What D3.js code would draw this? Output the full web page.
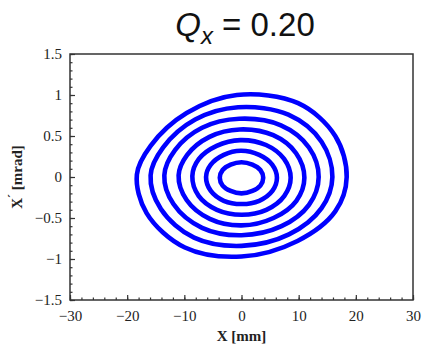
<!DOCTYPE html>
<html><head><meta charset="utf-8">
<script src="https://cdn.jsdelivr.net/npm/d3@7"></script>
<style>body{margin:0;background:#fff}</style>
</head><body>
<svg id="c" width="423" height="349"></svg>
<script>
// Data (X [mm], X' [mrad]), one closed ring each
const ring1 = [[3.8,-0.01],[3.3,0.085],[1.9,0.15],[0,0.18],[-1.9,0.15],[-3.3,0.085],[-3.8,-0.01],[-3.3,-0.105],[-1.9,-0.17],[0,-0.2],[1.9,-0.17],[3.3,-0.105]];
const ring2 = [[6.2,-0.01],[5.37,0.15],[3.1,0.27],[-0.1,0.32],[-3.1,0.27],[-5.37,0.15],[-6.2,0.0],[-5.37,-0.17],[-3.1,-0.29],[0.05,-0.33],[3.1,-0.29],[5.4,-0.17]];
const ring3 = [[8.6,-0.01],[7.45,0.22],[4.3,0.39],[-0.2,0.45],[-4.35,0.38],[-7.45,0.22],[-8.6,0.01],[-7.5,-0.23],[-4.3,-0.4],[0.05,-0.46],[4.35,-0.4],[7.5,-0.23]];
const ring4 = [[11,-0.01],[9.55,0.29],[5.55,0.51],[-0.3,0.58],[-5.6,0.49],[-9.5,0.27],[-11,0.02],[-9.6,-0.28],[-5.55,-0.51],[0,-0.59],[5.6,-0.5],[9.6,-0.29]];
const ring5 = [[13.5,0.0],[11.8,0.36],[6.9,0.63],[-0.4,0.71],[-6.9,0.6],[-11.6,0.33],[-13.5,0.02],[-11.9,-0.33],[-6.9,-0.62],[0,-0.71],[7.0,-0.6],[11.8,-0.34]];
const ring6 = [[15.9,0.0],[14.0,0.43],[8.2,0.76],[-0.6,0.85],[-8.1,0.7],[-13.7,0.36],[-15.9,0.02],[-14.1,-0.39],[-8.3,-0.74],[0,-0.84],[8.3,-0.7],[14.0,-0.38]];
const ring7 = [[18.4,0.0],[16.4,0.5],[9.9,0.9],[-0.8,1.0],[-9.6,0.78],[-15.9,0.38],[-18.3,0.03],[-16.6,-0.44],[-9.9,-0.86],[0,-0.97],[9.8,-0.78],[16.4,-0.42]];
const rings = [ring1, ring2, ring3, ring4, ring5, ring6, ring7];

const xTicks = [-30,-20,-10,0,10,20,30];
const yTicks = [-1.5,-1,-0.5,0,0.5,1,1.5];
const xMinor = d3.range(-30, 30.001, 2);
const yMinor = d3.range(-1.5, 1.5001, 0.1);

const svg = d3.select('#c');
const L = 70, R = 413, T = 54, B = 300;
const x = d3.scaleLinear().domain([-30,30]).range([L,R]);
const y = d3.scaleLinear().domain([-1.5,1.5]).range([B,T]);
const axisCol = '#333';
const serif = "'Liberation Serif','Times New Roman',serif";

// rings
const line = d3.line().x(d=>x(d[0])).y(d=>y(d[1])).curve(d3.curveCatmullRomClosed.alpha(0.5));
svg.append('g').selectAll('path').data(rings).join('path')
  .attr('d', line).attr('fill','none').attr('stroke','#0000ff').attr('stroke-width',4.6);

// frame
svg.append('rect').attr('x',L).attr('y',T).attr('width',R-L).attr('height',B-T)
  .attr('fill','none').attr('stroke',axisCol).attr('stroke-width',1.5);

// bottom axis
const gx = svg.append('g').attr('transform',`translate(0,${B})`)
  .call(d3.axisBottom(x).tickValues(xTicks).tickSize(-5).tickPadding(10)
    .tickFormat(d=>d<0?'\u2212'+Math.abs(d):d));
gx.select('.domain').remove();
gx.selectAll('line').attr('stroke',axisCol).attr('stroke-width',1.2);
gx.selectAll('text').attr('font-family',serif).attr('font-size',15).attr('fill','#222');
svg.append('g').attr('transform',`translate(0,${B})`)
  .call(d3.axisBottom(x).tickValues(xMinor).tickSize(-2.5).tickFormat(''))
  .call(g=>g.select('.domain').remove())
  .selectAll('line').attr('stroke',axisCol).attr('stroke-width',1.2);

// left axis
const gy = svg.append('g').attr('transform',`translate(${L},0)`)
  .call(d3.axisLeft(y).tickValues(yTicks).tickSize(-5).tickPadding(8)
    .tickFormat(d=>d<0?'\u2212'+Math.abs(d):d));
gy.select('.domain').remove();
gy.selectAll('line').attr('stroke',axisCol).attr('stroke-width',1.2);
gy.selectAll('text').attr('font-family',serif).attr('font-size',15).attr('fill','#222');
svg.append('g').attr('transform',`translate(${L},0)`)
  .call(d3.axisLeft(y).tickValues(yMinor).tickSize(-2.5).tickFormat(''))
  .call(g=>g.select('.domain').remove())
  .selectAll('line').attr('stroke',axisCol).attr('stroke-width',1.2);

// axis titles
svg.append('text').attr('x',(L+R)/2).attr('y',341).attr('text-anchor','middle')
  .attr('font-family',serif).attr('font-weight','bold').attr('font-size',15).attr('fill','#222')
  .text('X [mm]');
const yt = svg.append('text').attr('transform',`translate(22,${(T+B)/2}) rotate(-90)`)
  .attr('text-anchor','middle').attr('font-family',serif).attr('font-weight','bold')
  .attr('font-size',15).attr('fill','#222');
yt.append('tspan').text('X');
yt.append('tspan').attr('dy',-5).attr('font-size',12).text('\u00B4');
yt.append('tspan').attr('dy',5).text(' [mrad]');

// title
const tt = svg.append('text').attr('x',245).attr('y',36).attr('text-anchor','middle')
  .attr('font-family',"'Liberation Sans',Arial,sans-serif").attr('font-size',33).attr('fill','#111');
tt.append('tspan').attr('font-style','italic').text('Q');
tt.append('tspan').attr('font-style','italic').attr('font-size',24).attr('dy',8).text('x');
tt.append('tspan').attr('dy',-8).text(' = 0.20');
</script>
</body></html>
